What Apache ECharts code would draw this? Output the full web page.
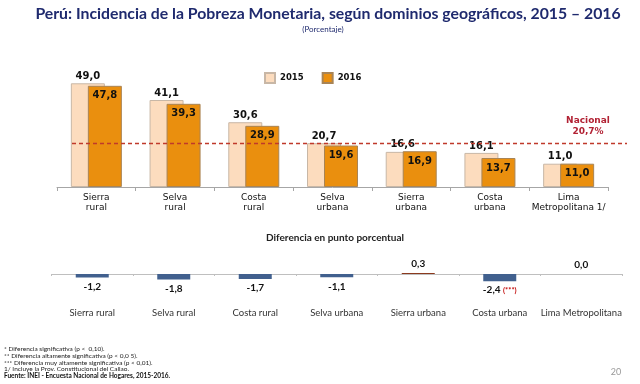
<!DOCTYPE html>
<html><head><meta charset="utf-8">
<script src="https://cdn.jsdelivr.net/npm/echarts@6/dist/echarts.min.js"></script>
<style>html,body{margin:0;padding:0;background:#fff}#c{width:640px;height:384px}</style>
</head><body><div id="c"></div>
<script>
// ---- data ----
const categories = ['Sierra\nrural', 'Selva\nrural', 'Costa\nrural', 'Selva\nurbana', 'Sierra\nurbana', 'Costa\nurbana', 'Lima\nMetropolitana 1/'];
const diffCategories = ['Sierra rural', 'Selva rural', 'Costa rural', 'Selva urbana', 'Sierra urbana', 'Costa urbana', 'Lima Metropolitana'];
const seriesNames = ['2015', '2016'];
const values2015 = [49.0, 41.1, 30.6, 20.7, 16.6, 16.1, 11.0];
const values2016 = [47.8, 39.3, 28.9, 19.6, 16.9, 13.7, 11.0];
const differences = [-1.2, -1.8, -1.7, -1.1, 0.3, -2.4, 0.0];
const significance = ['', '', '', '', '', '(***)', ''];
const nationalRate = 20.7;
const titleText = 'Perú: Incidencia de la Pobreza Monetaria, según dominios geográficos, 2015 – 2016';
const subtitleText = '(Porcentaje)';
const diffTitle = 'Diferencia en punto porcentual';
const footnotes = [
  '* Diferencia significativa (p <  0,10).',
  '** Diferencia altamente significativa (p < 0,0 5).',
  '*** Diferencia muy altamente significativa (p < 0,01).',
  '1/ Incluye la Prov. Constitucional del Callao.'
];
const sourceText = 'Fuente: INEI - Encuesta Nacional de Hogares, 2015-2016.';
const pageNumber = '20';

// ---- helpers ----
const fmt = v => v.toFixed(1).replace('.', ',');
const NAVY = '#1F2A6E';
const SANS = 'DejaVu Sans';
const CAL = 'Lato';

const chart = echarts.init(document.getElementById('c'), null, {renderer: 'canvas'});

const graphics = [
  {type: 'text', x: 328, y: 14, style: {text: titleText, fill: NAVY, font: 'bold 15.8px ' + CAL, textAlign: 'center', textVerticalAlign: 'middle'}},
  {type: 'text', x: 323, y: 29, style: {text: subtitleText, fill: NAVY, font: '8px ' + CAL, textAlign: 'center', textVerticalAlign: 'middle'}},
  {type: 'text', x: 335, y: 238, style: {text: diffTitle, fill: '#222', font: 'bold 10px ' + CAL, textAlign: 'center', textVerticalAlign: 'middle'}},
  {type: 'text', x: 616, y: 372, style: {text: pageNumber, fill: '#999', font: '9px ' + CAL, textAlign: 'center', textVerticalAlign: 'middle'}}
];
footnotes.forEach((t, i) => {
  graphics.push({type: 'text', x: 4, y: 349 + i * 6.8, style: {text: t, fill: '#222', font: '6.5px ' + CAL, textVerticalAlign: 'middle'}});
});
graphics.push({type: 'text', x: 4, y: 349 + 4 * 6.8, style: {text: sourceText, fill: '#111', font: 'bold 6.5px ' + CAL, textVerticalAlign: 'middle'}});

const option = {
  animation: false,
  backgroundColor: '#fff',
  legend: {
    data: seriesNames,
    left: 264, top: 72, padding: 0,
    itemWidth: 10, itemHeight: 10, itemGap: 18,
    icon: 'rect',
    textStyle: {fontFamily: SANS, fontWeight: 'bold', fontSize: 8.5, color: '#111'}
  },
  grid: [
    {left: 57, right: 32, top: 60, height: 127},
    {left: 51.5, right: 18, top: 244, height: 60}
  ],
  xAxis: [
    {
      type: 'category', gridIndex: 0, data: categories,
      axisLine: {lineStyle: {color: '#A6A6A6', width: 1}},
      axisTick: {show: true, length: 4, lineStyle: {color: '#A6A6A6'}},
      axisLabel: {fontFamily: SANS, fontSize: 9, color: '#111', margin: 5, lineHeight: 10.5, interval: 0}
    },
    {
      type: 'category', gridIndex: 1, data: diffCategories,
      axisLine: {onZero: true, lineStyle: {color: '#BFBFBF', width: 1}},
      axisTick: {show: true, length: 2, lineStyle: {color: '#BFBFBF'}},
      axisLabel: {fontFamily: CAL, fontSize: 9.5, color: '#333', margin: 4, interval: 0}
    }
  ],
  yAxis: [
    {type: 'value', gridIndex: 0, min: 0, max: 60, show: false, splitLine: {show: false}},
    {type: 'value', gridIndex: 1, min: -10, max: 10, show: false, splitLine: {show: false}}
  ],
  series: [
    {
      name: seriesNames[0], type: 'bar', xAxisIndex: 0, yAxisIndex: 0,
      data: values2015, barWidth: 34, barGap: '-50%',
      itemStyle: {color: '#FCDCBE', borderColor: '#C8B7A6', borderWidth: 1},
      label: {show: true, position: 'top', distance: 2, formatter: p => fmt(p.value),
        fontFamily: SANS, fontWeight: 'bold', fontSize: 10, color: '#111'},
      markLine: {
        silent: true, symbol: 'none',
        lineStyle: {color: '#C0392B', type: [4, 3], width: 1.3},
        label: {show: true, position: 'insideEndTop', distance: [39, 6], align: 'center',
          formatter: 'Nacional\n' + fmt(nationalRate) + '%', fontFamily: SANS, fontWeight: 'bold',
          fontSize: 9, lineHeight: 11, color: '#B22234'},
        data: [[{yAxis: nationalRate, x: 72}, {yAxis: nationalRate, x: 627}]]
      }
    },
    {
      name: seriesNames[1], type: 'bar', xAxisIndex: 0, yAxisIndex: 0,
      data: values2016, barWidth: 34, barGap: '-50%',
      itemStyle: {color: '#EA8F0E', borderColor: '#A88456', borderWidth: 1},
      label: {show: true, position: 'insideTop', distance: 5, formatter: p => fmt(p.value),
        fontFamily: SANS, fontWeight: 'bold', fontSize: 10, color: '#111'}
    },
    {
      name: 'Diferencia', type: 'bar', xAxisIndex: 1, yAxisIndex: 1,
      barWidth: 33,
      data: differences.map((v, i) => ({
        value: v,
        itemStyle: {color: v < 0 ? '#41608E' : '#8B3A1E'},
        label: {position: v < 0 ? 'bottom' : 'top'}
      })),
      label: {
        show: true, distance: 4,
        formatter: p => fmt(p.value) + (significance[p.dataIndex] ? ' {sig|' + significance[p.dataIndex] + '}' : ''),
        fontFamily: CAL, fontWeight: 'bold', fontSize: 10, color: '#111',
        rich: {sig: {fontFamily: CAL, fontWeight: 'bold', fontSize: 7.5, color: '#C00000'}}
      }
    }
  ],
  graphic: graphics
};
chart.setOption(option);
</script></body></html>
